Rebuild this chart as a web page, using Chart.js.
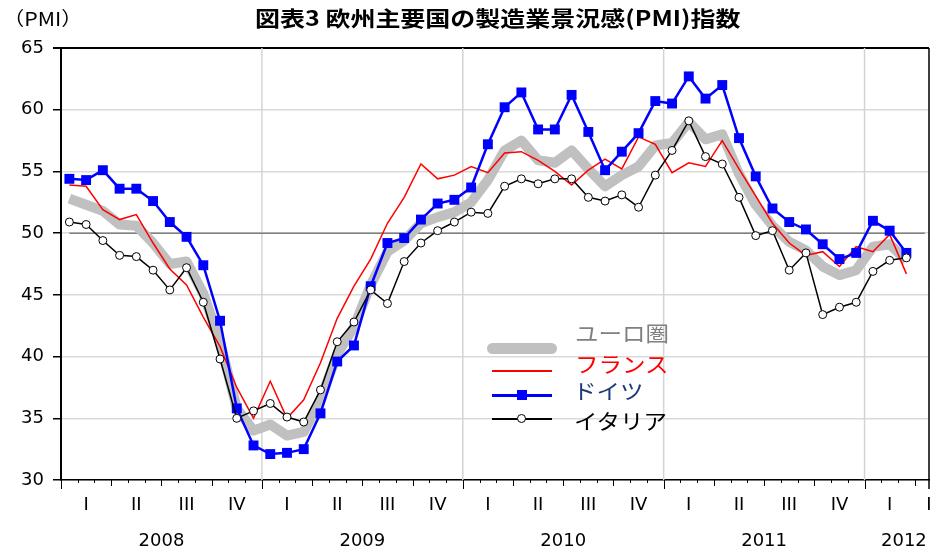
<!DOCTYPE html>
<html lang="ja">
<head>
<meta charset="utf-8">
<title>欧州主要国の製造業景況感(PMI)指数</title>
<script src="https://cdn.jsdelivr.net/npm/chart.js@4.4.1/dist/chart.umd.min.js"></script>
<style>
  body { margin: 0; background: #fff; }
  #wrap { position: relative; width: 936px; height: 548px; overflow: hidden; }
  #wrap canvas { position: absolute; left: 0; top: 0; }
  .txt { position: absolute; white-space: nowrap; font-family: "Noto Sans CJK JP", sans-serif; line-height: 1; }
  #title { left: 255px; top: 7px; font-size: 21px; font-weight: bold; transform-origin: left top; transform: scaleX(1.19); }
  #unit { left: 3px; top: 8px; font-size: 19px; transform-origin: left top; transform: scaleX(1.12); }
  .legtxt { font-size: 21px; transform-origin: left center; transform: scaleX(1.12); }
  .legline { position: absolute; }
</style>
</head>
<body>
<div id="wrap">
  <canvas id="myChart" width="936" height="548"></canvas>
  <div class="txt" id="unit">（PMI）</div>
  <div class="txt" id="title">図表3 欧州主要国の製造業景況感(PMI)指数</div>

  <div class="legline" style="left:487px;top:343px;width:70px;height:11px;border-radius:6px;background:#c0c0c0"></div>
  <div class="txt legtxt" style="left:575px;top:322px;color:#808080">ユーロ圏</div>

  <div class="legline" style="left:492px;top:370px;width:60px;height:1.5px;background:#ff0000"></div>
  <div class="txt legtxt" style="left:575px;top:353px;color:#ff0000">フランス</div>

  <div class="legline" style="left:492px;top:394px;width:60px;height:2.5px;background:#0000ff"></div>
  <div class="legline" style="left:517px;top:390px;width:10px;height:10px;background:#0000ff"></div>
  <div class="txt legtxt" style="left:573px;top:380px;color:#1f3a78">ドイツ</div>

  <div class="legline" style="left:492px;top:418px;width:60px;height:1.5px;background:#000"></div>
  <div class="legline" style="left:517px;top:414px;width:7px;height:7px;border:1px solid #000;border-radius:50%;background:#fff"></div>
  <div class="txt legtxt" style="left:574px;top:410px;color:#000">イタリア</div>
</div>
<script>
  // monthly, Jan 2008 - Mar 2012
  var years = ['2008', '2009', '2010', '2011', '2012'];
  var quarterNames = ['I', 'II', 'III', 'IV'];

  var euroValues = [
    52.8, 52.3, 51.8, 50.7, 50.6, 49.2, 47.5, 47.7, 45.1, 41.2, 35.8, 34.0,
    34.5, 33.6, 33.9, 36.5, 40.2, 42.4, 45.8, 48.5, 49.4, 50.8, 51.3, 51.7,
    52.5, 54.3, 56.7, 57.5, 55.9, 55.7, 56.7, 55.2, 53.8, 54.7, 55.4, 57.1,
    57.3, 59.0, 57.6, 58.0, 54.8, 52.3, 50.6, 49.3, 48.6, 47.3, 46.6, 47.0,
    48.9, 49.1, 47.8
  ];
  var franceValues = [
    53.9, 53.8, 51.9, 51.1, 51.5, 49.2, 47.1, 45.8, 43.2, 40.8, 37.5, 35.0,
    38.0, 35.0, 36.5, 39.5, 43.1, 45.7, 47.9, 50.8, 52.9, 55.6, 54.4, 54.7,
    55.4, 54.9, 56.5, 56.6, 55.9, 55.0, 53.9, 55.1, 56.0, 55.2, 57.8, 57.2,
    54.9, 55.7, 55.4, 57.5, 55.2, 53.0, 50.8, 49.2, 48.2, 48.5, 47.3, 48.9,
    48.5, 49.9, 46.7
  ];
  var germanyValues = [
    54.4, 54.3, 55.1, 53.6, 53.6, 52.6, 50.9, 49.7, 47.4, 42.9, 35.8, 32.8,
    32.1, 32.2, 32.5, 35.4, 39.6, 40.9, 45.7, 49.2, 49.6, 51.1, 52.4, 52.7,
    53.7, 57.2, 60.2, 61.4, 58.4, 58.4, 61.2, 58.2, 55.1, 56.6, 58.1, 60.7,
    60.5, 62.7, 60.9, 62.0, 57.7, 54.6, 52.0, 50.9, 50.3, 49.1, 47.9, 48.4,
    51.0, 50.2, 48.4
  ];
  var italyValues = [
    50.9, 50.7, 49.4, 48.2, 48.1, 47.0, 45.4, 47.2, 44.4, 39.8, 35.0, 35.6,
    36.2, 35.1, 34.7, 37.3, 41.2, 42.8, 45.4, 44.3, 47.7, 49.2, 50.2, 50.9,
    51.7, 51.6, 53.8, 54.4, 54.0, 54.4, 54.4, 52.9, 52.6, 53.1, 52.1, 54.7,
    56.7, 59.1, 56.2, 55.6, 52.9, 49.8, 50.2, 47.0, 48.4, 43.4, 44.0, 44.4,
    46.9, 47.8, 48.0
  ];
  var yTicks = [30, 35, 40, 45, 50, 55, 60, 65];
  var refLevel = 50;

  var xMax = 51.85;
  var numFont = { family: '"DejaVu Sans", sans-serif', size: 18 };

  function toPoints(values) {
    return values.map(function (v, i) { return { x: i + 0.5, y: v }; });
  }
  function noPad(axis) {
    axis.paddingLeft = 0; axis.paddingRight = 0;
    axis.paddingTop = 0; axis.paddingBottom = 0;
  }

  var axisDecor = {
    id: 'axisDecor',
    beforeDatasetsDraw: function (chart) {
      var ctx = chart.ctx, x = chart.scales.x, a = chart.chartArea;
      ctx.save();
      ctx.strokeStyle = '#d4d4d4';
      ctx.lineWidth = 1.5;
      for (var m = 12; m < xMax; m += 12) {
        var px = x.getPixelForValue(m);
        ctx.beginPath();
        ctx.moveTo(px, a.top);
        ctx.lineTo(px, a.bottom);
        ctx.stroke();
      }
      ctx.restore();
    },
    afterDraw: function (chart) {
      var ctx = chart.ctx, x = chart.scales.x, a = chart.chartArea;
      ctx.save();
      ctx.strokeStyle = '#000';
      ctx.lineWidth = 1;
      for (var m = 0; m <= xMax; m++) {
        var len = m % 12 === 0 ? 9 : (m % 3 === 0 ? 6 : 3);
        var px = Math.round(x.getPixelForValue(m)) + 0.5;
        ctx.beginPath();
        ctx.moveTo(px, a.bottom);
        ctx.lineTo(px, a.bottom + len);
        ctx.stroke();
      }
      // right frame
      ctx.lineWidth = 1.5;
      ctx.beginPath();
      ctx.moveTo(a.right, a.top);
      ctx.lineTo(a.right, a.bottom + 9);
      ctx.stroke();
      ctx.restore();
    }
  };

  new Chart('myChart', {
    type: 'line',
    data: {
      datasets: [{
        label: 'ユーロ圏',
        data: toPoints(euroValues),
        borderColor: '#c0c0c0',
        borderWidth: 10,
        borderJoinStyle: 'round',
        pointRadius: 0,
        order: 4
      }, {
        label: 'フランス',
        data: toPoints(franceValues),
        borderColor: '#ff0000',
        borderWidth: 1.5,
        pointRadius: 0,
        order: 3
      }, {
        label: 'ドイツ',
        data: toPoints(germanyValues),
        borderColor: '#0000ff',
        borderWidth: 2.5,
        pointStyle: 'rect',
        pointRadius: 7,
        pointBackgroundColor: '#0000ff',
        pointBorderColor: '#0000ff',
        pointBorderWidth: 0,
        order: 2
      }, {
        label: 'イタリア',
        data: toPoints(italyValues),
        borderColor: '#000',
        borderWidth: 1.5,
        pointStyle: 'circle',
        pointRadius: 4,
        pointBackgroundColor: '#fff',
        pointBorderColor: '#000',
        pointBorderWidth: 1,
        order: 1
      }, {
        label: 'ref',
        data: [{ x: 0.5, y: refLevel }, { x: 51.6, y: refLevel }],
        borderColor: '#808080',
        borderWidth: 1.5,
        pointRadius: 0,
        order: 5
      }]
    },
    options: {
      responsive: false,
      animation: false,
      devicePixelRatio: 1,
      events: [],
      layout: { padding: { top: 48, right: 4, left: 0, bottom: 0 } },
      plugins: {
        legend: { display: false },
        tooltip: { enabled: false },
        title: { display: false }
      },
      scales: {
        x: {
          type: 'linear',
          position: 'bottom',
          weight: 0,
          min: 0,
          max: xMax,
          grid: { display: false, drawTicks: false },
          border: { display: true, color: '#000', width: 1.5 },
          ticks: {
            autoSkip: false,
            maxRotation: 0,
            padding: 15,
            color: '#000',
            font: numFont,
            callback: function (value, index, ticks) {
              // last one is the clipped start of the next quarter label
              if (index === ticks.length - 1) return quarterNames[0];
              var q = Math.floor(value / 3);
              return quarterNames[q % 4];
            }
          },
          afterBuildTicks: function (axis) {
            var t = [];
            for (var q = 0; 3 * q + 1.5 <= xMax; q++) t.push({ value: 3 * q + 1.5 });
            t.push({ value: xMax });
            axis.ticks = t;
          },
          afterFit: function (axis) { axis.height = 40; noPad(axis); }
        },
        xYear: {
          type: 'linear',
          position: 'bottom',
          weight: 1,
          min: 0,
          max: xMax,
          grid: { display: false, drawTicks: false },
          border: { display: false },
          ticks: {
            autoSkip: false,
            maxRotation: 0,
            padding: 11,
            color: '#000',
            font: numFont,
            callback: function (value) {
              return years[Math.floor(value / 12)];
            }
          },
          afterBuildTicks: function (axis) {
            axis.ticks = years.map(function (y, i) {
              return { value: Math.min(12 * i + 6, xMax - 1.5) };
            });
          },
          afterFit: function (axis) { axis.height = 28; noPad(axis); }
        },
        y: {
          min: 30,
          max: 65,
          grid: {
            color: function (c) { return c.tick && c.tick.value === 65 ? '#000' : '#d9d9d9'; },
            lineWidth: function (c) { return c.tick && c.tick.value === 65 ? 2 : 1.5; },
            tickLength: 8,
            tickColor: '#000'
          },
          border: { display: true, color: '#000', width: 2 },
          ticks: {
            padding: 9,
            color: '#000',
            font: numFont,
            callback: function (v) { return v; }
          },
          afterBuildTicks: function (axis) {
            axis.ticks = yTicks.map(function (v) { return { value: v }; });
          },
          afterFit: function (axis) { axis.width = 61; noPad(axis); }
        }
      }
    },
    plugins: [axisDecor]
  });
</script>
</body>
</html>
